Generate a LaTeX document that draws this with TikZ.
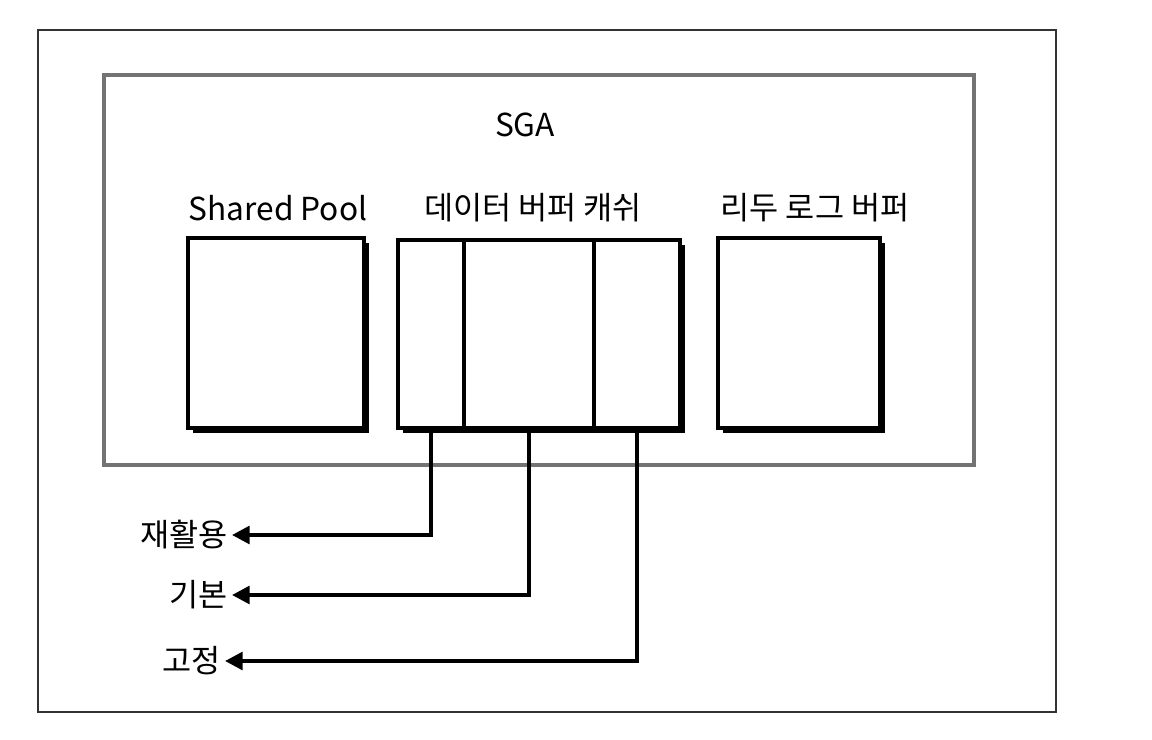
\documentclass[tikz,border=0pt]{standalone}
\usepackage{fontspec}
\setmainfont{Noto Sans CJK KR}
\usetikzlibrary{positioning,shadows,arrows.meta}

\begin{document}
\begin{tikzpicture}[x=0.01cm,y=-0.01cm,
    membox/.style={draw,fill=white,line width=1.1pt,outer sep=0pt,inner sep=0pt,
      drop shadow={shadow xshift=1.5pt,shadow yshift=-1.5pt,fill=black,opacity=1}},
    title/.style={font=\fontsize{9}{11}\selectfont},
    kind/.style={font=\fontsize{9}{11}\selectfont,anchor=east,inner sep=1pt},
    >={Triangle[length=5pt,width=5pt]}]
\useasboundingbox (0,0) rectangle (1152,740);

% Frames
\draw[line width=0.6pt,black!80] (38,30) rectangle (1056,712);
\draw[line width=1.2pt,black!55] (104,75) rectangle (974,465);
\node[title] (sga) at (525,125) {SGA};

% Memory areas
\node[title] (pooltxt) at (278,208) {Shared Pool};
\node[title] (cachetxt) at (533,208) {데이터 버퍼 캐쉬};
\node[title] (redotxt) at (815,208) {리두 로그 버퍼};

\node[membox,minimum width=1.76cm,minimum height=1.9cm] (pool) at (276,333) {};
\node[membox,minimum width=0.66cm,minimum height=1.88cm] (cache1) at (431,334) {};
\node[membox,minimum width=1.30cm,minimum height=1.88cm,right=0pt of cache1] (cache2) {};
\node[membox,minimum width=0.86cm,minimum height=1.88cm,right=0pt of cache2] (cache3) {};
\node[membox,minimum width=1.62cm,minimum height=1.9cm] (redo) at (799,333) {};

% Buffer kinds
\node[kind] (reuse) at (232,535) {재활용};
\node[kind] (basic) at (232,595) {기본};
\node[kind] (keep) at (225,661) {고정};

\draw[->,line width=1.1pt] (cache1.south) |- (reuse.east);
\draw[->,line width=1.1pt] (cache2.south) |- (basic.east);
\draw[->,line width=1.1pt] (cache3.south) |- (keep.east);

\end{tikzpicture}
\end{document}
